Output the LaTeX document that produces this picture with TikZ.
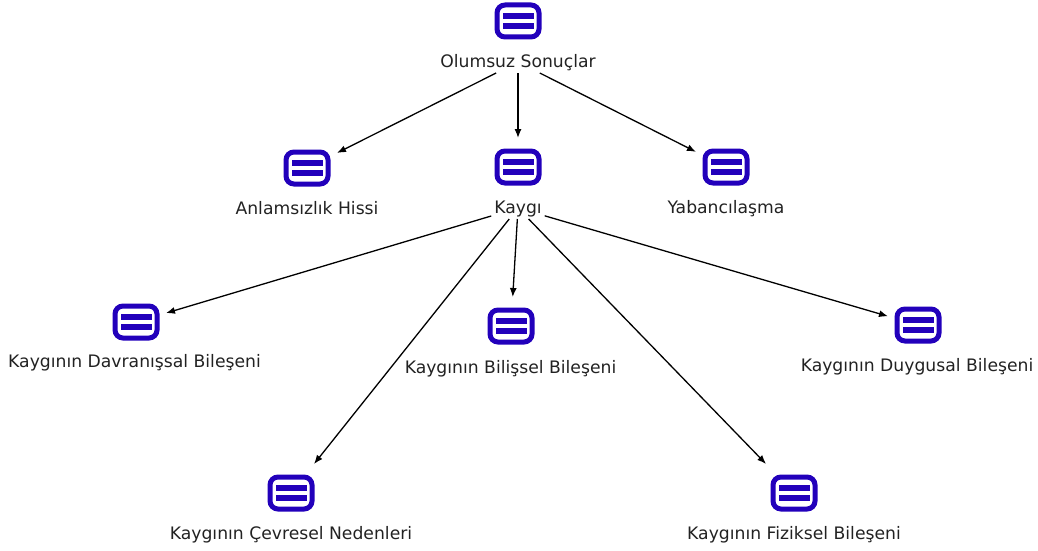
\documentclass[tikz,border=0pt]{standalone}
\usepackage{fontspec}
\setmainfont{DejaVu Sans}
\usetikzlibrary{arrows.meta}
\definecolor{iconblue}{HTML}{2200BB}
\definecolor{labelgray}{HTML}{222222}
\tikzset{
    iconbox/.style={minimum width=60pt, minimum height=58pt, inner sep=0pt, outer sep=0pt,
        path picture={
            \draw[iconblue, line width=5pt, rounded corners=8pt]
                ([shift={(-21pt,-16pt)}]path picture bounding box.center) rectangle
                ([shift={(21pt,16pt)}]path picture bounding box.center);
            \fill[iconblue] ([shift={(-15.5pt,2pt)}]path picture bounding box.center) rectangle
                ([shift={(15.5pt,8pt)}]path picture bounding box.center);
            \fill[iconblue] ([shift={(-15.5pt,-8pt)}]path picture bounding box.center) rectangle
                ([shift={(15.5pt,-2pt)}]path picture bounding box.center);
        }},
    textbox/.style={inner xsep=3pt, inner ysep=3pt, outer sep=0pt, text=labelgray,
        text height=13pt, text depth=3pt, font=\fontsize{17.2}{20}\selectfont},
    link/.style={-{Latex[length=9pt,width=7pt]}, line width=1.3pt}
}

\begin{document}
\begin{tikzpicture}[x=1pt, y=-1pt]

    \useasboundingbox (0,0) rectangle (1038,551);

    \draw(518,21) node[iconbox] (Sonuc) {};
    \draw(307,168) node[iconbox] (Anlam) {};
    \draw(518,167) node[iconbox] (Kaygi) {};
    \draw(726,167) node[iconbox] (Yaban) {};
    \draw(136,322) node[iconbox] (Davranis) {};
    \draw(511,326) node[iconbox] (Bilis) {};
    \draw(918,325) node[iconbox] (Duygu) {};
    \draw(291,493) node[iconbox] (Cevre) {};
    \draw(794,493) node[iconbox] (Fizik) {};

    \draw(518,62) node[textbox] (SonucT) {Olumsuz Sonuçlar};
    \draw(307,209) node[textbox] (AnlamT) {Anlamsızlık Hissi};
    \draw(518,208) node[textbox] (KaygiT) {Kaygı};
    \draw(726,208) node[textbox] (YabanT) {Yabancılaşma};
    \draw(134.5,362) node[textbox] (DavranisT) {Kaygının Davranışsal Bileşeni};
    \draw(510.5,368) node[textbox] (BilisT) {Kaygının Bilişsel Bileşeni};
    \draw(917,366) node[textbox] (DuyguT) {Kaygının Duygusal Bileşeni};
    \draw(291,534) node[textbox] (CevreT) {Kaygının Çevresel Nedenleri};
    \draw(794,534) node[textbox] (FizikT) {Kaygının Fiziksel Bileşeni};

    \draw[link] (SonucT) to (Anlam);
    \draw[link] (SonucT) to (Kaygi);
    \draw[link] (SonucT) to (Yaban);
    \draw[link] (KaygiT) to (Davranis);
    \draw[link] (KaygiT) to (Bilis);
    \draw[link] (KaygiT) to (Duygu);
    \draw[link] (KaygiT) to (Cevre);
    \draw[link] (KaygiT) to (Fizik);

\end{tikzpicture}
\end{document}
